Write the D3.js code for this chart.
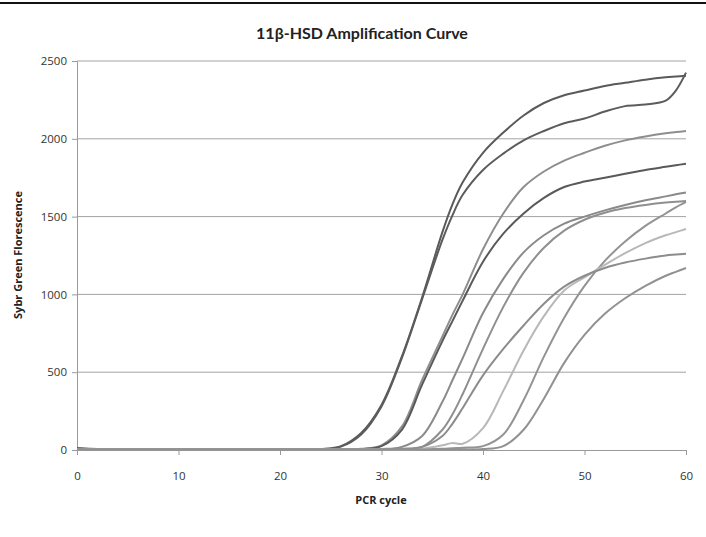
<!DOCTYPE html>
<html>
<head>
<meta charset="utf-8">
<script src="https://cdn.jsdelivr.net/npm/d3@7"></script>
<style>
    body { margin: 0; background: #fff; }
    text { font-family: "Open Sans", "Liberation Sans", sans-serif; }
</style>
</head>
<body>
<div id="chart"></div>
<script>

// PCR cycles at which the curves were read
let cycles = [0, 2, 5, 10, 15, 20, 24, 26, 28, 30, 32, 34, 36, 37, 38, 40, 42, 44, 46, 48, 50, 52, 54, 56, 58, 59, 60];

// fluorescence of each well
let wellA = [10, 6, 3, 3, 4, 3, 6, 25, 110, 290, 600, 980, 1400, 1580, 1720, 1910, 2040, 2150, 2230, 2280, 2310, 2340, 2360, 2380, 2395, 2400, 2405];
let wellB = [12, 5, 3, 3, 3, 3, 5, 22, 100, 280, 590, 970, 1350, 1510, 1640, 1800, 1905, 1990, 2050, 2100, 2130, 2175, 2210, 2220, 2245, 2310, 2425];
let wellC = [8, 4, 3, 3, 3, 3, 3, 4, 8, 30, 150, 450, 730, 870, 1000, 1290, 1520, 1690, 1790, 1860, 1910, 1955, 1990, 2015, 2035, 2043, 2050];
let wellD = [9, 4, 3, 3, 3, 3, 3, 4, 7, 25, 130, 420, 700, 830, 960, 1210, 1390, 1520, 1620, 1690, 1725, 1750, 1775, 1800, 1820, 1830, 1840];
let wellE = [7, 3, 3, 3, 3, 3, 3, 3, 4, 6, 20, 90, 310, 450, 590, 880, 1100, 1270, 1380, 1455, 1500, 1540, 1575, 1605, 1630, 1643, 1655];
let wellF = [7, 3, 3, 3, 3, 3, 3, 3, 3, 4, 6, 20, 130, 230, 360, 650, 920, 1140, 1300, 1410, 1480, 1525, 1555, 1575, 1590, 1595, 1600];
let wellG = [6, 3, 3, 3, 3, 3, 3, 3, 3, 3, 4, 5, 8, 12, 15, 25, 100, 320, 600, 850, 1055, 1215, 1340, 1440, 1520, 1560, 1595];
let wellH = [6, 3, 3, 3, 3, 3, 3, 3, 3, 3, 4, 8, 30, 45, 40, 140, 380, 640, 860, 1025, 1110, 1190, 1265, 1330, 1380, 1400, 1420];
let wellI = [7, 3, 3, 3, 3, 3, 3, 3, 3, 4, 8, 20, 90, 170, 270, 480, 650, 800, 940, 1050, 1120, 1170, 1205, 1230, 1250, 1256, 1262];
let wellJ = [6, 3, 3, 3, 3, 3, 3, 3, 3, 3, 3, 3, 4, 4, 4, 6, 25, 130, 330, 560, 740, 875, 975, 1055, 1120, 1145, 1170];

let wells = [wellA, wellB, wellC, wellD, wellE, wellF, wellG, wellH, wellI, wellJ];
let wellColors = ["#5a5a5a", "#5c5c5c", "#8e8e8e", "#595959", "#8a8a8a", "#8f8f8f", "#939393", "#b8b8b8", "#8c8c8c", "#919191"];

let xTicks = [0, 10, 20, 30, 40, 50, 60];
let yTicks = [0, 500, 1000, 1500, 2000, 2500];

let width = 706, height = 537;

let svg = d3.select("#chart").append("svg")
    .attr("width", width)
    .attr("height", height);

svg.append("rect").attr("width", width).attr("height", height).attr("fill", "#fff");

// frame edge at the top of the picture
svg.append("line")
    .attr("x1", 0).attr("x2", width)
    .attr("y1", 3).attr("y2", 3)
    .attr("stroke", "#111").attr("stroke-width", 2);

let xScale = d3.scaleLinear().domain([0, 60]).range([77, 686]);
let yScale = d3.scaleLinear().domain([0, 2500]).range([450, 61]);

//Add the gridlines
svg.append("g").selectAll("line")
    .data(yTicks.filter(d => d > 0))
    .enter().append("line")
    .attr("x1", xScale(0)).attr("x2", xScale(60))
    .attr("y1", d => yScale(d)).attr("y2", d => yScale(d))
    .attr("stroke", "#a3a3a3").attr("stroke-width", 1);

//Add the x and y axis
let xAxis = svg.append("g")
    .attr("transform", "translate(0," + yScale(0) + ")")
    .call(d3.axisBottom(xScale).tickValues(xTicks).tickFormat(d3.format("d"))
        .tickSize(5).tickPadding(17).tickSizeOuter(0));

let yAxis = svg.append("g")
    .attr("transform", "translate(" + xScale(0) + ",0)")
    .call(d3.axisLeft(yScale).tickValues(yTicks).tickFormat(d3.format("d"))
        .tickSize(5).tickPadding(5).tickSizeOuter(0));

[xAxis, yAxis].forEach(function(ax) {
    ax.select(".domain").attr("stroke", "#9a9a9a");
    ax.selectAll(".tick line").attr("stroke", "#9a9a9a");
    ax.selectAll(".tick text")
        .attr("fill", "#333")
        .style("font-size", "11.5px")
        .style("font-family", "'Open Sans', sans-serif");
});

//Add the curves
let line = d3.line()
    .x((d, i) => xScale(cycles[i]))
    .y(d => yScale(d))
    .curve(d3.curveCatmullRom.alpha(0.5));

svg.append("g").selectAll("path")
    .data(wells)
    .enter().append("path")
    .attr("d", d => line(d))
    .attr("fill", "none")
    .attr("stroke", (d, i) => wellColors[i])
    .attr("stroke-width", 2)
    .attr("stroke-linejoin", "round");

//Titles
svg.append("text")
    .attr("x", 362).attr("y", 39)
    .attr("text-anchor", "middle")
    .style("font-size", "16px").style("font-weight", "bold")
    .style("font-family", "Lato, sans-serif")
    .attr("fill", "#222")
    .text("11β-HSD Amplification Curve");

svg.append("text")
    .attr("x", 381).attr("y", 504)
    .attr("text-anchor", "middle")
    .style("font-size", "11px").style("font-weight", "bold")
    .attr("fill", "#222")
    .text("PCR cycle");

svg.append("text")
    .attr("transform", "translate(22,255) rotate(-90)")
    .attr("text-anchor", "middle")
    .style("font-size", "11px").style("font-weight", "bold")
    .attr("fill", "#222")
    .text("Sybr Green Florescence");

</script>
</body>
</html>
